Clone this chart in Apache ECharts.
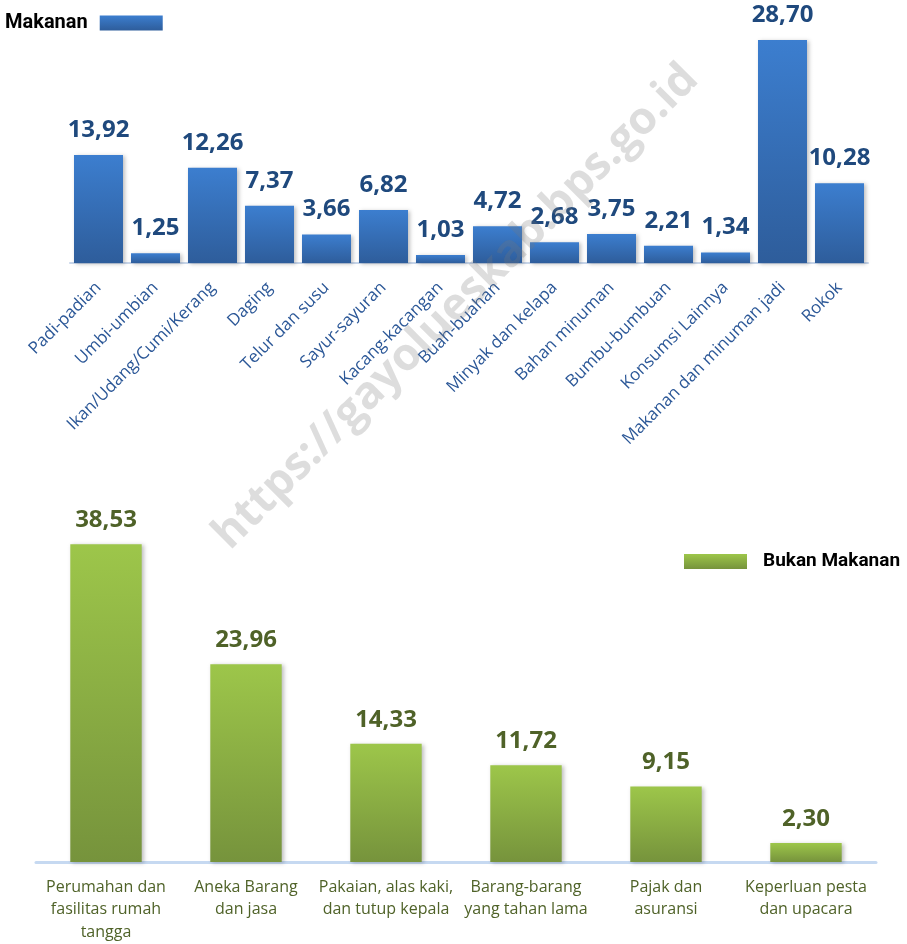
<!DOCTYPE html>
<html>
<head>
<meta charset="utf-8">
<script src="https://cdn.jsdelivr.net/npm/echarts@6/dist/echarts.min.js"></script>
<style>
html,body{margin:0;padding:0;background:#fff;}
#chart{width:907px;height:944px;}
</style>
</head>
<body>
<div id="chart"></div>
<script>
const foodCategories = ["Padi-padian","Umbi-umbian","Ikan/Udang/Cumi/Kerang","Daging","Telur dan susu","Sayur-sayuran","Kacang-kacangan","Buah-buahan","Minyak dan kelapa","Bahan minuman","Bumbu-bumbuan","Konsumsi Lainnya","Makanan dan minuman jadi","Rokok"];
const foodValues = [13.92, 1.25, 12.26, 7.37, 3.66, 6.82, 1.03, 4.72, 2.68, 3.75, 2.21, 1.34, 28.70, 10.28];
const nonFoodCategories = ["Perumahan dan\nfasilitas rumah\ntangga","Aneka Barang\ndan jasa","Pakaian, alas kaki,\ndan tutup kepala","Barang-barang\nyang tahan lama","Pajak dan\nasuransi","Keperluan pesta\ndan upacara"];
const nonFoodValues = [38.53, 23.96, 14.33, 11.72, 9.15, 2.30];
const foodName = "Makanan";
const nonFoodName = "Bukan Makanan";
const watermarkText = "https://gayolueskab.bps.go.id";

const fmt = p => p.value.toFixed(2).replace('.', ',');
const legendFont = "Roboto, 'Liberation Sans', sans-serif";

const chart = echarts.init(document.getElementById('chart'));
chart.setOption({
  animation: false,
  backgroundColor: '#ffffff',
  legend: [
    {
      data: [foodName], left: 5, top: 13, align: 'right', padding: 0,
      itemWidth: 63, itemHeight: 15, icon: 'rect',
      textStyle: { fontFamily: legendFont, fontWeight: 'bold', fontSize: 20, color: '#000', padding: [0, 7, 0, 0] },
      selectedMode: false
    },
    {
      data: [nonFoodName], left: 684, top: 552, align: 'left', padding: 0,
      itemWidth: 63, itemHeight: 15, icon: 'rect',
      textStyle: { fontFamily: legendFont, fontWeight: 'bold', fontSize: 19, color: '#000', padding: [0, 0, 0, 11] },
      selectedMode: false
    }
  ],
  grid: [
    { left: 70, right: 39, top: 30, height: 233, outerBoundsMode: 'none' },
    { left: 36, right: 31, top: 532, height: 330, outerBoundsMode: 'none' }
  ],
  xAxis: [
    {
      gridIndex: 0, type: 'category', data: foodCategories,
      axisLine: { lineStyle: { color: '#C8D6EA', width: 2 } },
      axisTick: { show: false },
      axisLabel: { interval: 0, rotate: 45, margin: 22, fontSize: 17, fontFamily: "'Open Sans',sans-serif", color: '#2B5797' }
    },
    {
      gridIndex: 1, type: 'category', data: nonFoodCategories,
      axisLine: { lineStyle: { color: '#C6D9F1', width: 3 } },
      axisTick: { show: false },
      axisLabel: { interval: 0, margin: 14, fontSize: 16, lineHeight: 22.5, fontFamily: "'Open Sans',sans-serif", color: '#4F6228' }
    }
  ],
  yAxis: [
    { gridIndex: 0, type: 'value', min: 0, max: 30, show: false, splitLine: { show: false } },
    { gridIndex: 1, type: 'value', min: 0, max: 40, show: false, splitLine: { show: false } }
  ],
  series: [
    {
      name: foodName, type: 'bar', xAxisIndex: 0, yAxisIndex: 0, data: foodValues,
      barCategoryGap: '14%',
      color: '#4F81BD',
      itemStyle: {
        color: new echarts.graphic.LinearGradient(0, 0, 0, 1, [
          { offset: 0, color: '#3C7ECF' }, { offset: 1, color: '#2E5D9B' }
        ]),
        shadowColor: 'rgba(0,0,0,0.25)', shadowBlur: 4, shadowOffsetX: 2, shadowOffsetY: 1
      },
      label: { show: true, position: 'top', distance: 13, formatter: fmt, fontFamily: "'Open Sans',sans-serif", fontWeight: 'bold', fontSize: 24, color: '#1F497D' }
    },
    {
      name: nonFoodName, type: 'bar', xAxisIndex: 1, yAxisIndex: 1, data: nonFoodValues,
      barCategoryGap: '49%',
      color: '#9BBB59',
      itemStyle: {
        color: new echarts.graphic.LinearGradient(0, 0, 0, 1, [
          { offset: 0, color: '#9DC64A' }, { offset: 1, color: '#76933C' }
        ]),
        shadowColor: 'rgba(0,0,0,0.25)', shadowBlur: 4, shadowOffsetX: 2, shadowOffsetY: 1
      },
      label: { show: true, position: 'top', distance: 12, formatter: fmt, fontFamily: "'Open Sans',sans-serif", fontWeight: 'bold', fontSize: 24, color: '#4F6228' }
    }
  ],
  graphic: [
    {
      type: 'text', x: 456, y: 307, rotation: Math.PI / 4, z: 100, silent: true,
      style: { text: watermarkText, fontFamily: "'Open Sans',sans-serif", fontWeight: 'bold', fontSize: 45, fill: 'rgba(120,120,120,0.25)', align: 'center', verticalAlign: 'middle' }
    }
  ]
});
</script>
</body>
</html>
